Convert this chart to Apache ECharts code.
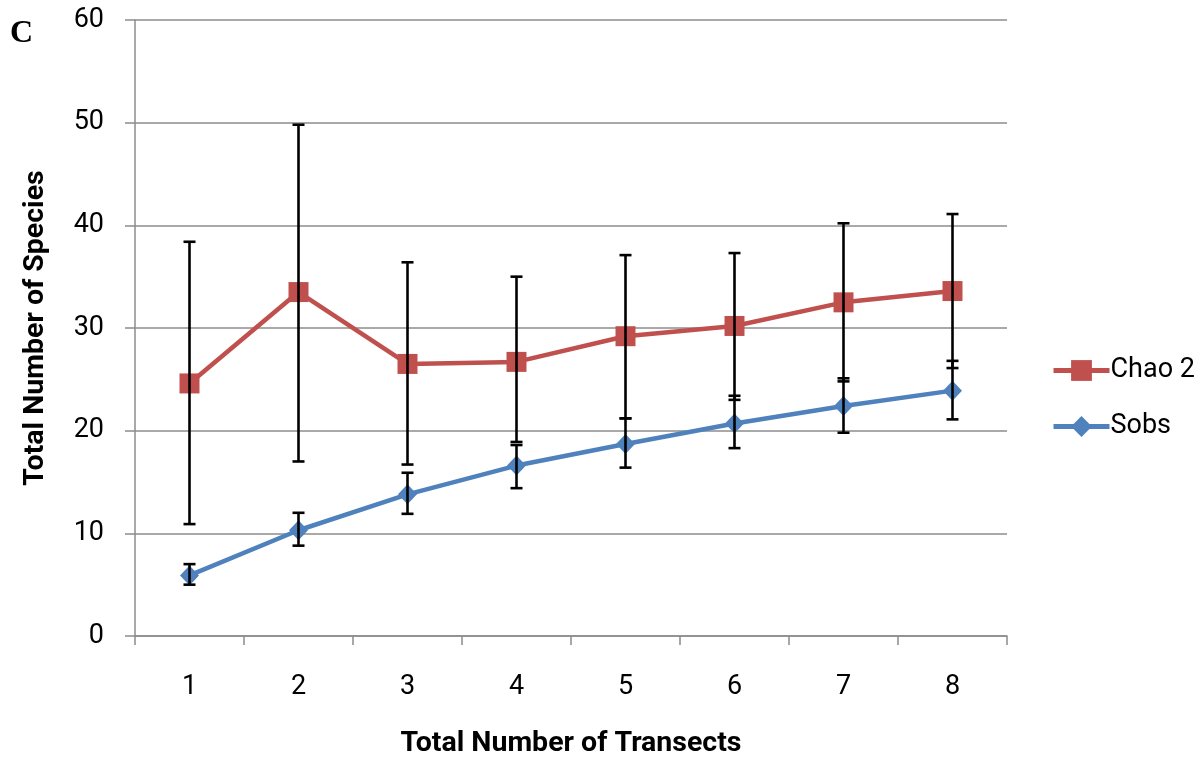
<!DOCTYPE html>
<html>
<head>
<meta charset="utf-8">
<script src="https://cdn.jsdelivr.net/npm/echarts@6/dist/echarts.min.js"></script>
<style>
  html, body { margin: 0; padding: 0; background: #fff; }
  #chart { width: 1203px; height: 763px; }
</style>
</head>
<body>
<div id="chart"></div>
<script>
// Species accumulation: number of transects vs. species counts
const categories = ['1', '2', '3', '4', '5', '6', '7', '8'];
const chao2 = [24.6, 33.5, 26.5, 26.7, 29.2, 30.2, 32.5, 33.6];
const chao2Low = [10.9, 17.0, 16.7, 18.9, 21.2, 23.0, 24.8, 26.1];
const chao2High = [38.4, 49.8, 36.4, 35.0, 37.1, 37.3, 40.2, 41.1];
const sobs = [5.9, 10.3, 13.8, 16.6, 18.7, 20.7, 22.4, 23.9];
const sobsLow = [5.0, 8.8, 11.9, 14.4, 16.4, 18.3, 19.8, 21.1];
const sobsHigh = [7.0, 12.0, 15.9, 18.6, 21.2, 23.4, 25.1, 26.8];
const yTicks = [0, 10, 20, 30, 40, 50, 60];

const FONT = 'Roboto, "Open Sans", sans-serif';
const AXIS_GREY = '#8c8c8c';

function errorBars(low, high) {
  return low.map((l, i) => [i, l, high[i]]);
}

// vertical whisker with flat caps at both ends
function renderErrorBar(params, api) {
  const x = api.value(0);
  const lo = api.coord([x, api.value(1)]);
  const hi = api.coord([x, api.value(2)]);
  const cap = 6;
  const style = { stroke: '#000', lineWidth: 2.6 };
  return {
    type: 'group',
    children: [
      { type: 'line', shape: { x1: hi[0], y1: hi[1], x2: lo[0], y2: lo[1] }, style },
      { type: 'line', shape: { x1: hi[0] - cap, y1: hi[1], x2: hi[0] + cap, y2: hi[1] }, style },
      { type: 'line', shape: { x1: lo[0] - cap, y1: lo[1], x2: lo[0] + cap, y2: lo[1] }, style }
    ]
  };
}

const chart = echarts.init(document.getElementById('chart'));
chart.setOption({
  animation: false,
  backgroundColor: '#fff',
  title: {
    text: 'C',
    left: 10,
    top: 18,
    padding: 0,
    textStyle: {
      fontSize: 32,
      fontWeight: 'bold',
      fontFamily: 'Liberation Serif, DejaVu Serif, serif',
      color: '#000'
    }
  },
  grid: { left: 135, right: 196, top: 20, bottom: 126, containLabel: false },
  legend: {
    orient: 'vertical',
    left: 1046,
    top: 352,
    itemGap: 29,
    itemWidth: 56,
    itemHeight: 26,
    lineStyle: { width: 5 },
    textStyle: { fontFamily: FONT, fontSize: 27, color: '#000', padding: [0, 0, 0, -4] },
    data: [{ name: 'Chao 2' }, { name: 'Sobs' }]
  },
  xAxis: {
    type: 'category',
    data: categories,
    boundaryGap: true,
    name: 'Total Number of Transects',
    nameLocation: 'middle',
    nameGap: 93,
    nameTextStyle: { fontFamily: FONT, fontSize: 28.5, fontWeight: 'bold', color: '#000' },
    axisLine: { lineStyle: { color: AXIS_GREY, width: 1.5 } },
    axisTick: { show: true, alignWithLabel: false, length: 9, lineStyle: { color: AXIS_GREY, width: 1.5 } },
    axisLabel: { fontFamily: FONT, fontSize: 27, color: '#000', margin: 38 },
    splitLine: { show: false }
  },
  yAxis: {
    type: 'value',
    min: yTicks[0],
    max: yTicks[yTicks.length - 1],
    interval: 10,
    name: 'Total Number of Species',
    nameLocation: 'middle',
    nameGap: 85,
    nameRotate: 90,
    nameTextStyle: { fontFamily: FONT, fontSize: 28.5, fontWeight: 'bold', color: '#000' },
    axisLine: { show: true, lineStyle: { color: AXIS_GREY, width: 1.5 } },
    axisTick: { show: true, length: 10, lineStyle: { color: AXIS_GREY, width: 1.5 } },
    axisLabel: { fontFamily: FONT, fontSize: 27, color: '#000', margin: 31 },
    splitLine: { show: true, lineStyle: { color: AXIS_GREY, width: 1.5 } }
  },
  series: [
    {
      name: 'Chao 2',
      type: 'line',
      data: chao2,
      symbol: 'rect',
      symbolSize: 20,
      color: '#C0504D',
      lineStyle: { width: 4.5, color: '#C0504D' },
      itemStyle: { color: '#C0504D' },
      z: 3
    },
    {
      name: 'Sobs',
      type: 'line',
      data: sobs,
      symbol: 'diamond',
      symbolSize: [19, 20],
      color: '#4F81BD',
      lineStyle: { width: 4.5, color: '#4F81BD' },
      itemStyle: { color: '#4F81BD' },
      z: 3
    },
    {
      name: 'Chao 2 error',
      type: 'custom',
      data: errorBars(chao2Low, chao2High),
      renderItem: renderErrorBar,
      z: 5,
      silent: true
    },
    {
      name: 'Sobs error',
      type: 'custom',
      data: errorBars(sobsLow, sobsHigh),
      renderItem: renderErrorBar,
      z: 5,
      silent: true
    }
  ]
});
</script>
</body>
</html>
